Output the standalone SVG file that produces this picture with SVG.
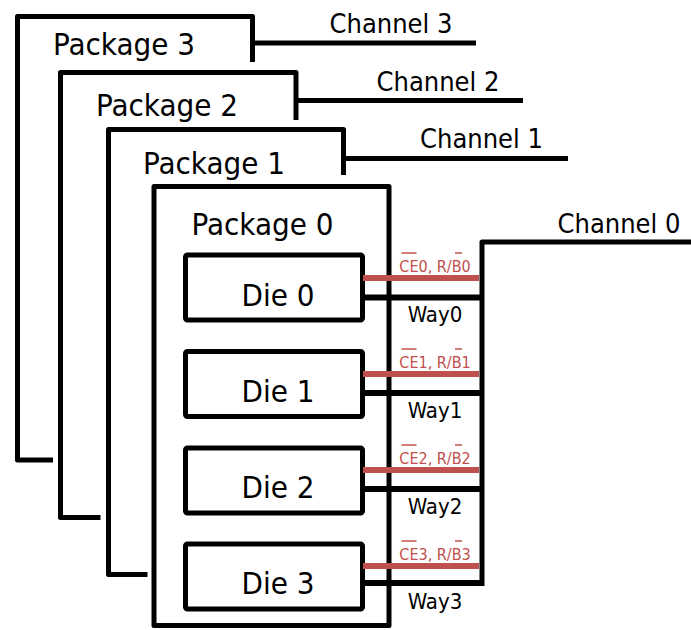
<svg xmlns="http://www.w3.org/2000/svg" width="691" height="630" viewBox="0 0 691 630">
<style>
.k{fill:none;stroke:#000;stroke-width:5;stroke-linejoin:round}
.w{fill:#fff;stroke:#000;stroke-width:5;stroke-linejoin:round}
.r{stroke:#c0504d;stroke-width:6}
.b{stroke:#000;stroke-width:6}
.t{font-family:"DejaVu Sans Condensed","Liberation Sans",sans-serif;fill:#000}
.pk{font-size:31px;text-anchor:middle}
.ch{font-size:27px;text-anchor:middle}
.die{font-size:31px;text-anchor:middle}
.way{font-size:22px;text-anchor:middle}
.sig{font-size:16px;text-anchor:middle;fill:#c0504d}
.ol{stroke:#c0504d;stroke-width:1.5}
</style>
<rect width="691" height="630" fill="#fff"/>
<g id="package3">
<path class="k" d="M53,460 H17.5 V16.5 H252.5 V62"/>
<text class="t pk" x="124" y="55">Package 3</text>
</g>
<g id="package2">
<path class="k" d="M100.5,517.5 H60.5 V72.5 H296 V120"/>
<text class="t pk" x="167" y="116">Package 2</text>
</g>
<g id="package1">
<path class="k" d="M147.5,574.5 H108.5 V129.5 H343.5 V175"/>
<text class="t pk" x="214" y="174">Package 1</text>
</g>
<g id="package0">
<rect class="w" x="154" y="186.5" width="235" height="439"/>
<text class="t pk" x="262.5" y="235">Package 0</text>
</g>
<g id="die0">
<rect class="k" x="185.5" y="255" width="177" height="65" rx="2"/>
<text class="t die" x="278" y="306">Die 0</text>
</g>
<g id="die1">
<rect class="k" x="185.5" y="351.5" width="177" height="65" rx="2"/>
<text class="t die" x="278" y="402">Die 1</text>
</g>
<g id="die2">
<rect class="k" x="185.5" y="448" width="177" height="65" rx="2"/>
<text class="t die" x="278" y="498">Die 2</text>
</g>
<g id="die3">
<rect class="k" x="185.5" y="544" width="177" height="65" rx="2"/>
<text class="t die" x="278" y="594">Die 3</text>
</g>
<g id="connectors">
<path class="k" d="M252.5,43 H476"/>
<path class="k" d="M296,100.5 H523"/>
<path class="k" d="M343.5,158.5 H568"/>
<path class="k" d="M691,242 H482 V586"/>
<line class="r" x1="363" y1="278" x2="479" y2="278"/>
<line class="r" x1="363" y1="374" x2="479" y2="374"/>
<line class="r" x1="363" y1="470" x2="479" y2="470"/>
<line class="r" x1="363" y1="566" x2="479" y2="566"/>
<line class="b" x1="363" y1="297.5" x2="482" y2="297.5"/>
<line class="b" x1="363" y1="393" x2="482" y2="393"/>
<line class="b" x1="363" y1="489" x2="482" y2="489"/>
<line class="b" x1="363" y1="583" x2="482" y2="583"/>
</g>
<g id="channel-labels">
<text class="t ch" x="391" y="33">Channel 3</text>
<text class="t ch" x="438" y="90.5">Channel 2</text>
<text class="t ch" x="481.5" y="147.5">Channel 1</text>
<text class="t ch" x="619" y="233">Channel 0</text>
</g>
<g id="signal-labels">
<text class="t sig" x="435" y="272">CE0, R/B0</text>
<line class="ol" x1="401.5" y1="253" x2="416.5" y2="253"/>
<line class="ol" x1="455" y1="253" x2="462" y2="253"/>
<text class="t sig" x="435" y="368">CE1, R/B1</text>
<line class="ol" x1="401.5" y1="349" x2="416.5" y2="349"/>
<line class="ol" x1="455" y1="349" x2="462" y2="349"/>
<text class="t sig" x="435" y="464">CE2, R/B2</text>
<line class="ol" x1="401.5" y1="445" x2="416.5" y2="445"/>
<line class="ol" x1="455" y1="445" x2="462" y2="445"/>
<text class="t sig" x="435" y="560">CE3, R/B3</text>
<line class="ol" x1="401.5" y1="541" x2="416.5" y2="541"/>
<line class="ol" x1="455" y1="541" x2="462" y2="541"/>
</g>
<g id="way-labels">
<text class="t way" x="435" y="321.5">Way0</text>
<text class="t way" x="435" y="417.5">Way1</text>
<text class="t way" x="435" y="513.5">Way2</text>
<text class="t way" x="435" y="608.5">Way3</text>
</g>
</svg>
